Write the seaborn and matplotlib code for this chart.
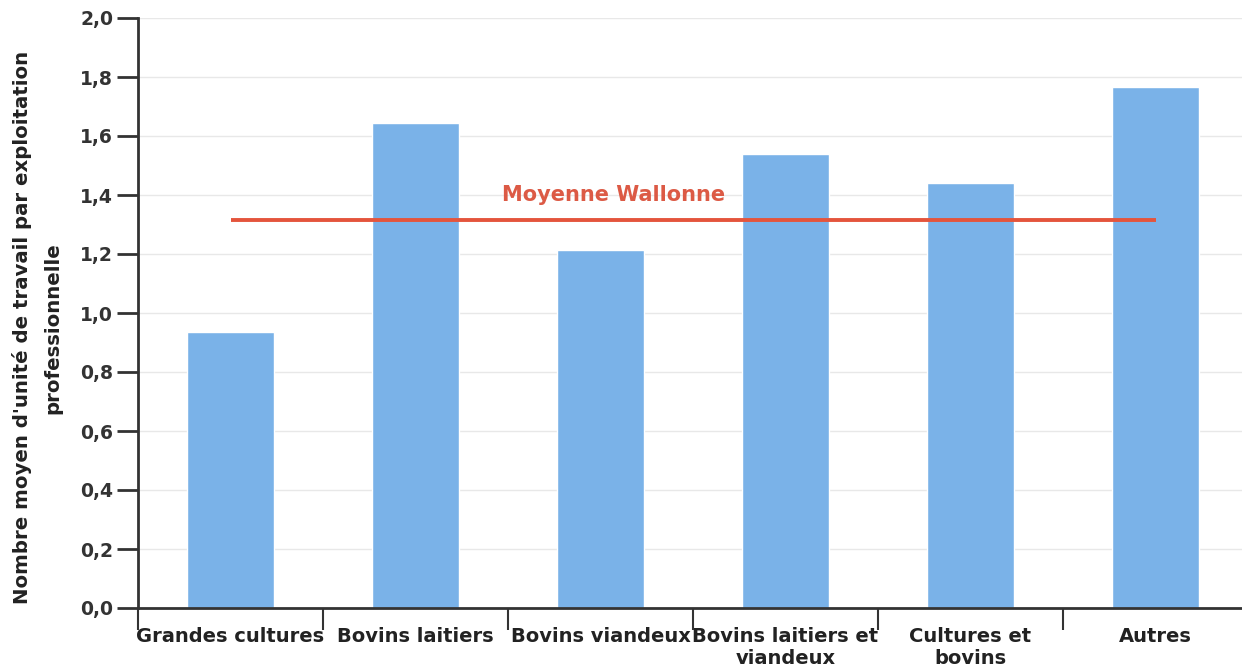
import matplotlib
matplotlib.use("Agg")
import matplotlib.pyplot as plt
import seaborn as sns
import pandas as pd
from matplotlib.ticker import FixedLocator, FuncFormatter

categories = ["Grandes cultures", "Bovins laitiers", "Bovins viandeux",
              "Bovins laitiers et\nviandeux", "Cultures et\nbovins", "Autres"]
values = [0.935, 1.645, 1.215, 1.54, 1.44, 1.765]
moyenne_wallonne = 1.315
moyenne_label = "Moyenne Wallonne"
y_ticks = [0.0, 0.2, 0.4, 0.6, 0.8, 1.0, 1.2, 1.4, 1.6, 1.8, 2.0]
y_label = "Nombre moyen d'unité de travail par exploitation\nprofessionnelle"

sns.set_theme(style="white")
plt.rcParams['font.family'] = ['DejaVu Sans']

df = pd.DataFrame({"cat": categories, "val": values})

fig = plt.figure(figsize=(12.42, 6.71), dpi=100)
ax = fig.add_axes([138/1242, 1-608/671, (1248-138)/1242, (608-18)/671])

ax.yaxis.grid(True, color="#e8e8e8", linewidth=1)
ax.set_axisbelow(True)

sns.barplot(data=df, x="cat", y="val", color="#7ab2e8", saturation=1,
            width=0.475, ax=ax, zorder=2)

n = len(categories)
ax.hlines(moyenne_wallonne, 0, n - 1, color="#e4543c", linewidth=2.8, zorder=3)
ax.text(1.47, 1.4, moyenne_label, color="#dc5a45", fontsize=15,
        fontweight="bold", ha="left", va="center", zorder=4)

ax.set_xlim(-0.5, n - 0.5)
ax.set_ylim(0, 2.0)
ax.set_yticks(y_ticks)
ax.yaxis.set_major_formatter(FuncFormatter(lambda v, p: f"{v:.1f}".replace(".", ",")))
for lbl in ax.get_yticklabels():
    lbl.set_fontweight("bold")
    lbl.set_fontsize(13.5)
    lbl.set_color("#333333")

ax.set_xticks(range(n))
ax.set_xticklabels(categories, fontsize=14, fontweight="bold", color="#222222",
                   linespacing=1.15)
ax.xaxis.set_minor_locator(FixedLocator([i - 0.5 for i in range(n + 1)]))
ax.tick_params(axis="x", which="major", length=0, pad=14)
ax.tick_params(axis="x", which="minor", length=16, width=1.5, color="#333333",
               direction="out", bottom=True)
ax.tick_params(axis="y", which="major", length=15, width=2, color="#333333",
               direction="out", left=True, pad=3)

ax.set_xlabel("")
ax.set_ylabel(y_label, fontsize=14.2, fontweight="bold", color="#222222",
              linespacing=1.75)
ax.yaxis.set_label_coords(-0.068, 0.475)

for s in ["top", "right"]:
    ax.spines[s].set_visible(False)
ax.spines["left"].set_color("#333333")
ax.spines["left"].set_linewidth(2)
ax.spines["bottom"].set_color("#333333")
ax.spines["bottom"].set_linewidth(2)

fig.savefig("out.png", dpi=100)
